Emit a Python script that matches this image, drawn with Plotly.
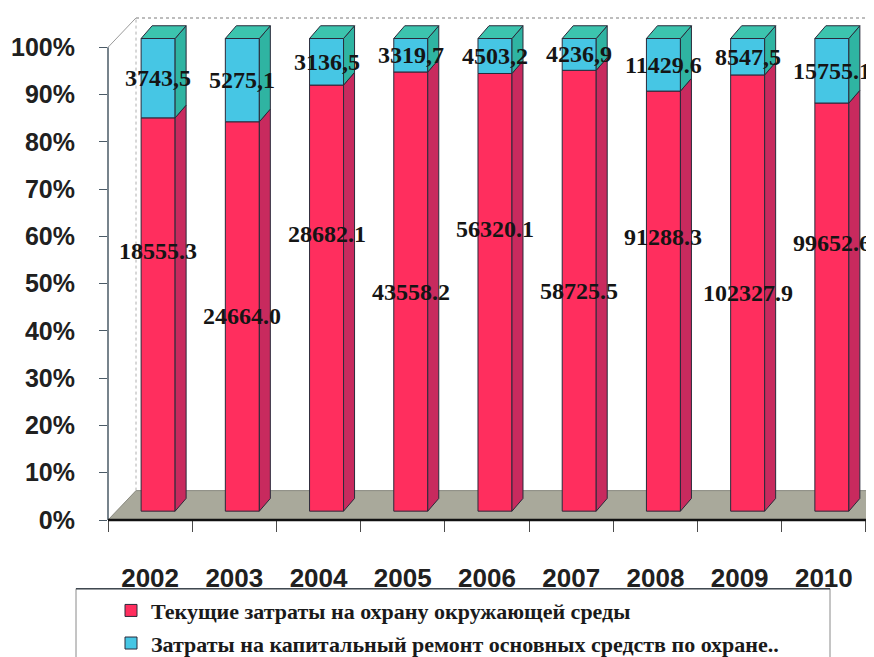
import plotly.graph_objects as go

# ---------------- data ----------------
years = ["2002", "2003", "2004", "2005", "2006", "2007", "2008", "2009", "2010"]
current_costs = [18555.3, 24664.0, 28682.1, 43558.2, 56320.1, 58725.5, 91288.3, 102327.9, 99652.6]
capital_costs = [3743.5, 5275.1, 3136.5, 3319.7, 4503.2, 4236.9, 11429.6, 8547.5, 15755.1]
capital_dec_sep = [",", ",", ",", ",", ",", ",", ".", ",", "."]
y_tick_values = [0, 10, 20, 30, 40, 50, 60, 70, 80, 90, 100]
y_tick_labels = [f"{v}%" for v in y_tick_values]
series_names = [
    "Текущие затраты на охрану окружающей среды",
    "Затраты на капитальный ремонт основных средств по охране..",
]

# ---------------- geometry / style ----------------
PX_X = 84.22          # pixels per category
PX_Y = 4.82           # pixels per percent
FRONT_DX = 8 / PX_X
FRONT_DY = 9 / PX_Y
DEPTH_DX = 11 / PX_X
DEPTH_DY = 13 / PX_Y
FLOOR_DX = 28 / PX_X
FLOOR_DY = 30 / PX_Y
BAR_W = 34 / PX_X
X0, X1 = -0.5, -0.5 + 774 / PX_X
Y0, Y1 = 0, 517 / PX_Y

RED_FRONT, RED_SIDE = "#FF2E5E", "#C82A5E"
CYAN_FRONT, CYAN_SIDE, CYAN_TOP = "#46C6E4", "#2FB4A2", "#3CC4AE"
EDGE = "#2A2A3A"

n = len(years)
totals = [c + k for c, k in zip(current_costs, capital_costs)]
cur_pct = [c / t * 100 for c, t in zip(current_costs, totals)]
cap_pct = [k / t * 100 for k, t in zip(capital_costs, totals)]
xs = list(range(n))

fig = go.Figure()

# front faces (bars)
fig.add_trace(go.Bar(
    x=xs, y=cur_pct, base=[FRONT_DY] * n, width=BAR_W, offset=FRONT_DX - BAR_W / 2,
    marker=dict(color=RED_FRONT, line=dict(color=EDGE, width=1)),
    name=series_names[0], legendgroup="a", hoverinfo="skip"))
fig.add_trace(go.Bar(
    x=xs, y=cap_pct, base=[p + FRONT_DY for p in cur_pct], width=BAR_W,
    offset=FRONT_DX - BAR_W / 2,
    marker=dict(color=CYAN_FRONT, line=dict(color=EDGE, width=1)),
    name=series_names[1], legendgroup="b", hoverinfo="skip"))


def side_poly(lo, hi):
    px, py = [], []
    for i in range(n):
        xr = i + FRONT_DX + BAR_W / 2
        y0 = lo[i] + FRONT_DY
        y1 = hi[i] + FRONT_DY
        px += [xr, xr + DEPTH_DX, xr + DEPTH_DX, xr, xr, None]
        py += [y0, y0 + DEPTH_DY, y1 + DEPTH_DY, y1, y0, None]
    return px, py


sx, sy = side_poly([0] * n, cur_pct)
fig.add_trace(go.Scatter(x=sx, y=sy, fill="toself", fillcolor=RED_SIDE, mode="lines",
                         line=dict(color=EDGE, width=1), showlegend=False, hoverinfo="skip"))
sx, sy = side_poly(cur_pct, [p + q for p, q in zip(cur_pct, cap_pct)])
fig.add_trace(go.Scatter(x=sx, y=sy, fill="toself", fillcolor=CYAN_SIDE, mode="lines",
                         line=dict(color=EDGE, width=1), showlegend=False, hoverinfo="skip"))

tx, ty = [], []
for i in range(n):
    xl = i + FRONT_DX - BAR_W / 2
    xr = i + FRONT_DX + BAR_W / 2
    yt = cur_pct[i] + cap_pct[i] + FRONT_DY
    tx += [xl, xl + DEPTH_DX, xr + DEPTH_DX, xr, xl, None]
    ty += [yt, yt + DEPTH_DY, yt + DEPTH_DY, yt, yt, None]
fig.add_trace(go.Scatter(x=tx, y=ty, fill="toself", fillcolor=CYAN_TOP, mode="lines",
                         line=dict(color=EDGE, width=1), showlegend=False, hoverinfo="skip"))

# data labels
label_font = dict(family="Liberation Serif, Times New Roman, serif", size=24, color="#151515", weight="bold")
annotations = []
for i in range(n):
    lift = 13.5 if i % 2 == 0 else 0
    annotations.append(dict(
        x=i + FRONT_DX, y=cur_pct[i] / 2 + FRONT_DY + lift, xref="x", yref="y",
        text=f"{current_costs[i]:.1f}", showarrow=False, font=label_font))
    annotations.append(dict(
        x=i + FRONT_DX, y=cur_pct[i] + cap_pct[i] / 2 + FRONT_DY, xref="x", yref="y",
        text=f"{capital_costs[i]:.1f}".replace(".", capital_dec_sep[i]),
        showarrow=False, font=label_font))

shapes = [
    # floor
    dict(type="path", xref="x", yref="y", layer="below",
         path=(f"M {-0.5},{0} L {n - 0.5},{0} L {n - 0.5 + FLOOR_DX},{FLOOR_DY} "
               f"L {-0.5 + FLOOR_DX},{FLOOR_DY} Z"),
         fillcolor="#A9A99B", line=dict(color="#7A7A70", width=0.8)),
    # back wall left edge
    dict(type="line", xref="x", yref="y", layer="below",
         x0=-0.5 + FLOOR_DX, x1=-0.5 + FLOOR_DX, y0=FLOOR_DY, y1=100 + FLOOR_DY,
         line=dict(color="#B0B0B0", width=1, dash="dot")),
    # back wall top edge
    dict(type="line", xref="x", yref="y", layer="below",
         x0=-0.5 + FLOOR_DX, x1=X1, y0=100 + FLOOR_DY, y1=100 + FLOOR_DY,
         line=dict(color="#A8A8A8", width=1.5, dash="dot")),
    # side wall top diagonal
    dict(type="line", xref="x", yref="y",
         x0=-0.5, x1=-0.5 + FLOOR_DX, y0=100, y1=100 + FLOOR_DY,
         line=dict(color="#9A9A9A", width=1)),
    # value axis line
    dict(type="line", xref="paper", yref="y", x0=0, x1=0, y0=0, y1=100,
         line=dict(color="#4A5A66", width=1.5)),
    # category axis line
    dict(type="line", xref="x", yref="paper", x0=-0.5, x1=n - 0.5, y0=0, y1=0,
         line=dict(color="#111111", width=2.5)),
    # legend box
    dict(type="rect", xref="paper", yref="paper",
         x0=(68 - 100) / 774, x1=(822 - 100) / 774,
         y0=(522 - 592) / 517, y1=(522 - 680) / 517,
         line=dict(color="#8A8A8A", width=1), fillcolor="rgba(0,0,0,0)"),
    dict(type="line", xref="paper", yref="paper",
         x0=(68 - 100) / 774, x1=(822 - 100) / 774,
         y0=(522 - 592) / 517, y1=(522 - 592) / 517,
         line=dict(color="#404850", width=1.5)),
]

tick_font = dict(family="Liberation Sans Narrow, Liberation Sans, Arial, sans-serif",
                 size=25, color="#202020", weight="bold")
year_font = dict(family="Liberation Sans Narrow, Liberation Sans, Arial, sans-serif",
                 size=26, color="#202020", weight="bold")

fig.update_layout(
    width=874, height=657,
    margin=dict(l=100, r=0, t=5, b=135),
    paper_bgcolor="white", plot_bgcolor="white",
    barmode="overlay",
    showlegend=True,
    legend=dict(
        x=(103 - 100) / 774, y=(522 - 593) / 517, xanchor="left", yanchor="top",
        font=dict(family="Liberation Serif, Times New Roman, serif", size=22,
                  color="#1A1A1A", weight="bold"),
        bgcolor="rgba(0,0,0,0)", borderwidth=0,
        traceorder="grouped", tracegroupgap=1, itemwidth=30,
    ),
    xaxis=dict(
        range=[X0, X1], tickvals=xs, ticktext=years, ticks="", showgrid=False,
        zeroline=False, showline=False, tickfont=year_font, ticklabelstandoff=40,
        minor=dict(tickvals=[k - 0.5 for k in range(n + 1)], ticks="outside",
                   ticklen=11, tickcolor="#4A4A4A", tickwidth=1, showgrid=False),
        fixedrange=True,
    ),
    yaxis=dict(
        range=[Y0, Y1], tickvals=y_tick_values, ticktext=y_tick_labels,
        ticks="outside", ticklen=8, tickcolor="#4A5A66", showgrid=False,
        zeroline=False, showline=False, tickfont=tick_font, ticklabelstandoff=19,
        fixedrange=True,
    ),
    annotations=annotations,
    shapes=shapes,
)

fig.write_html("out.html")
